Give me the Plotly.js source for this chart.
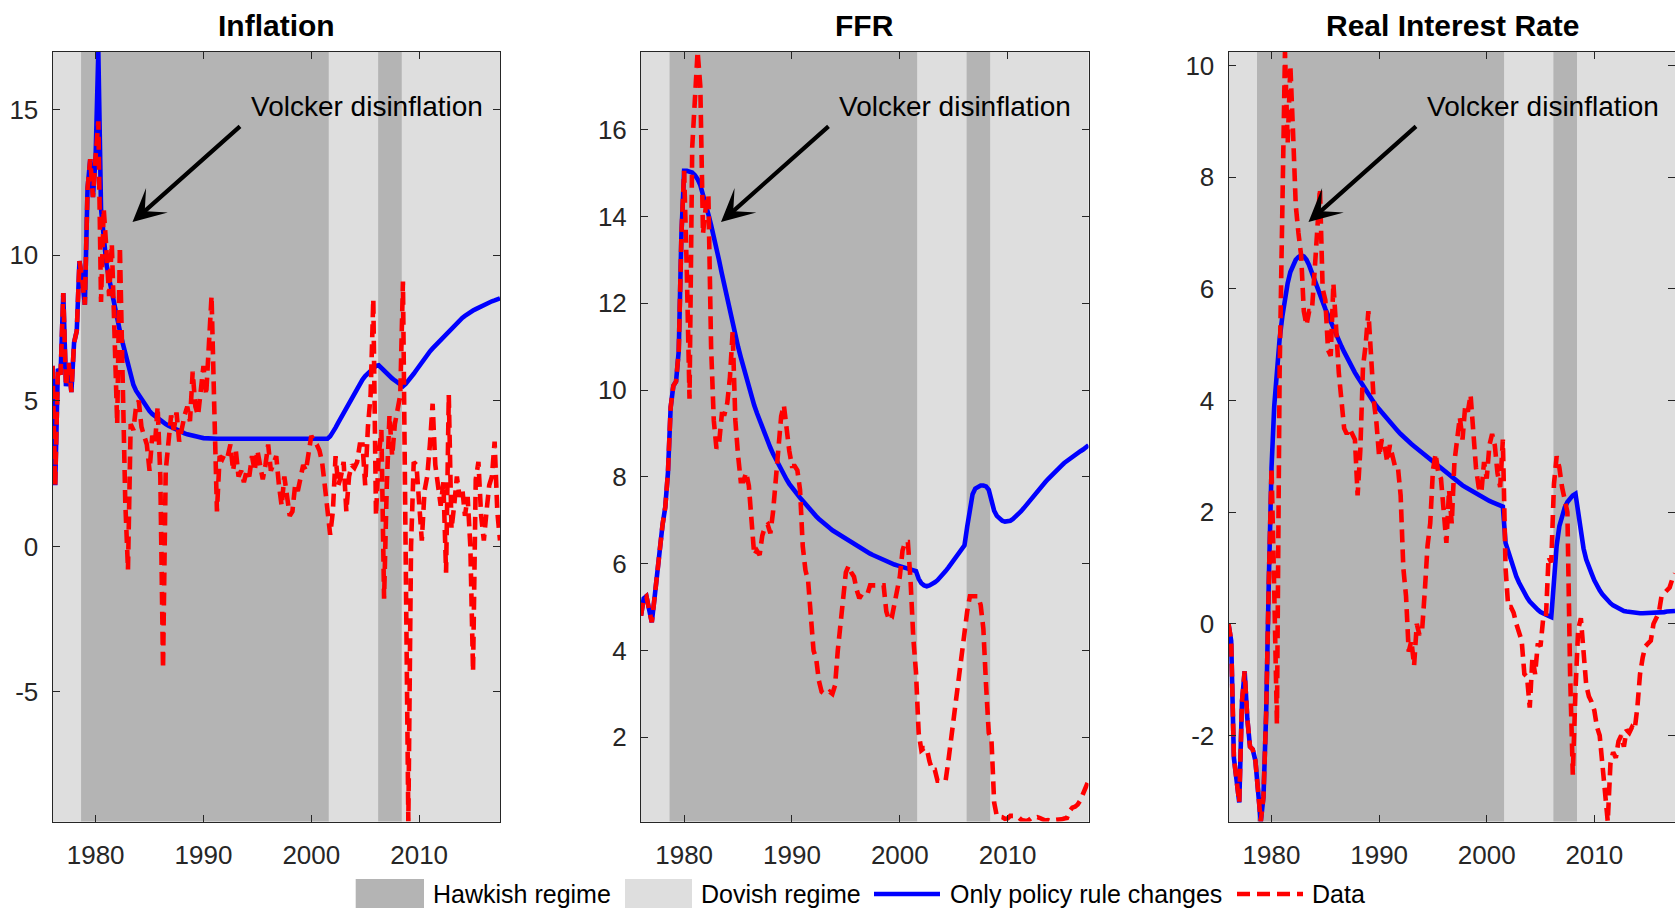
<!DOCTYPE html>
<html>
<head>
<meta charset="utf-8">
<script src="https://cdn.plot.ly/plotly-3.0.1.min.js"></script>
<style>
html,body{margin:0;padding:0;background:#ffffff;}
#chart{width:1675px;height:911px;}
</style>
</head>
<body>
<div id="chart"></div>
<script>
// ---------------- DATA ----------------
const firstQuarter = 1976;          // 1976Q1, quarterly observations
const panelTitles = ['Inflation', 'FFR', 'Real Interest Rate'];
const xTickVals = [1980, 1990, 2000, 2010];

const regimeStart = [1976.0, 1978.65, 2001.63, 2006.2, 2008.4];
const regimeEnd   = [1978.65, 2001.63, 2006.2, 2008.4, 2017.5];
const regimeType  = ['Dovish', 'Hawkish', 'Dovish', 'Hawkish', 'Dovish'];

const legendLabels = ['Hawkish regime', 'Dovish regime', 'Only policy rule changes', 'Data'];
const annotationText = 'Volcker disinflation';

const inflationTicks = [-5, 0, 5, 10, 15];
const ffrTicks = [2, 4, 6, 8, 10, 12, 14, 16];
const realRateTicks = [-2, 0, 2, 4, 6, 8, 10];

// Inflation – data
const inflationData = [
  6.2, 2.1, 6.1, 5.9,
  8.7, 5.5, 6.3, 5.3,
  7.0, 7.4, 9.8, 9.2,
  8.3, 12.3, 13.3, 12.0,
  13.4, 14.6, 8.4, 11.6,
  10.2, 8.6, 10.4, 6.8,
  4.2, 10.3, 5.4, 1.5,
  -0.8, 4.2, 4.0, 4.8,
  5.0, 4.1, 3.8, 3.5,
  2.6, 3.8, 3.5, 4.8,
  2.4, -4.2, 2.6, 3.6,
  4.5, 4.0, 4.6, 3.6,
  4.1, 4.5, 4.8, 4.3,
  6.0, 4.8, 4.5, 5.5,
  6.2, 5.2, 7.1, 8.6,
  4.8, 1.2, 3.1, 3.0,
  3.2, 3.1, 3.5, 2.6,
  3.3, 2.4, 2.6, 2.2,
  2.6, 2.4, 3.1, 2.6,
  3.3, 2.8, 2.3, 2.8,
  3.5, 2.6, 2.9, 3.1,
  2.1, 1.4, 2.4, 1.6,
  1.05, 1.2, 2.1, 1.9,
  2.4, 2.8, 2.6, 3.1,
  3.8, 3.6, 3.5, 3.3,
  2.9, 2.1, 1.4, 0.4,
  1.2, 3.1, 2.1, 2.4,
  2.9, 1.2, 2.4, 2.8,
  2.7, 2.9, 3.5, 3.5,
  2.1, 4.1, 5.2, 8.5,
  1.05, 3.1, 4.0, -1.8,
  2.1, 4.5, 3.1, 4.2,
  4.7, 5.2, 9.1, 0.3,
  -9.45, 0.0, 2.9, 2.8,
  1.2, 0.2, 1.9, 2.4,
  3.5, 4.9, 2.8, 2.1,
  1.4, 2.2, -0.9, 5.2,
  0.6, 1.4, 2.4, 1.7,
  2.0, 1.05, 1.7, 0.0,
  -4.3, 2.3, 2.9, 1.05,
  0.2, 1.2, 2.1, 2.4,
  3.6, 1.2, 0.2
];
// Inflation – only policy rule changes
const inflationPolicy = [
  6.2, 2.1, 6.1, 5.9,
  8.7, 5.5, 6.3, 5.3,
  7.0, 7.4, 9.8, 9.2,
  8.3, 12.3, 13.3, 12.0,
  13.4, 17.0, 11.6, 10.5,
  9.7, 9.2, 8.7, 8.25,
  7.8, 7.4, 7.0, 6.6,
  6.2, 5.8, 5.55, 5.35,
  5.2, 5.05, 4.9, 4.78,
  4.65, 4.55, 4.47, 4.4,
  4.33, 4.26, 4.2, 4.15,
  4.1, 4.05, 4.0, 3.96,
  3.92, 3.88, 3.85, 3.82,
  3.8, 3.78, 3.76, 3.74,
  3.72, 3.71, 3.71, 3.7,
  3.7, 3.7, 3.7, 3.7,
  3.7, 3.7, 3.7, 3.7,
  3.7, 3.7, 3.7, 3.7,
  3.7, 3.7, 3.7, 3.7,
  3.7, 3.7, 3.7, 3.7,
  3.7, 3.7, 3.7, 3.7,
  3.7, 3.7, 3.7, 3.7,
  3.7, 3.7, 3.7, 3.7,
  3.7, 3.7, 3.7, 3.7,
  3.7, 3.7, 3.7, 3.7,
  3.7, 3.7, 3.7, 3.78,
  3.9, 4.08, 4.25, 4.42,
  4.6, 4.78, 4.95, 5.12,
  5.3, 5.45, 5.6, 5.73,
  5.85, 5.95, 6.05, 6.13,
  6.2, 6.22, 6.12, 6.02,
  5.93, 5.85, 5.77, 5.7,
  5.63, 5.56, 5.5, 5.58,
  5.68, 5.8, 5.93, 6.06,
  6.2, 6.33, 6.46, 6.58,
  6.7, 6.8, 6.9, 7.0,
  7.1, 7.2, 7.3, 7.4,
  7.5, 7.59, 7.68, 7.77,
  7.85, 7.92, 7.99, 8.05,
  8.1, 8.15, 8.2, 8.25,
  8.3, 8.34, 8.38, 8.42,
  8.45, 8.49, 8.52
];

// FFR – data
const ffrData = [
  4.8, 5.2, 5.25, 4.9,
  4.65, 5.2, 5.8, 6.5,
  6.9, 7.3, 8.1, 9.6,
  10.1, 10.2, 10.9, 13.6,
  15.05, 12.7, 9.8, 15.6,
  16.6, 17.8, 17.0, 13.6,
  14.2, 14.5, 11.0, 9.3,
  8.65, 8.8, 9.45, 9.45,
  9.7, 10.3, 11.35, 9.3,
  8.5, 7.9, 7.9, 8.1,
  7.8, 6.9, 6.2, 6.3,
  6.2, 6.65, 6.85, 6.9,
  6.7, 7.2, 8.0, 8.5,
  9.4, 9.65, 9.1, 8.6,
  8.25, 8.25, 8.15, 7.7,
  6.4, 5.85, 5.6, 4.8,
  4.0, 3.8, 3.3, 3.05,
  3.0, 3.0, 3.05, 3.0,
  3.2, 4.0, 4.5, 5.2,
  5.8, 5.95, 5.8, 5.7,
  5.4, 5.2, 5.3, 5.3,
  5.3, 5.5, 5.5, 5.5,
  5.5, 5.5, 5.5, 4.9,
  4.7, 4.75, 5.1, 5.3,
  5.7, 6.3, 6.5, 6.5,
  5.6, 4.3, 3.5, 2.1,
  1.7, 1.75, 1.75, 1.45,
  1.25, 1.25, 1.0, 1.0,
  1.0, 1.0, 1.45, 1.95,
  2.5, 2.95, 3.45, 3.95,
  4.45, 4.9, 5.25, 5.25,
  5.25, 5.25, 5.05, 4.5,
  3.2, 2.1, 1.95, 0.5,
  0.18, 0.18, 0.16, 0.12,
  0.13, 0.19, 0.19, 0.19,
  0.16, 0.1, 0.08, 0.07,
  0.1, 0.15, 0.14, 0.16,
  0.14, 0.12, 0.08, 0.09,
  0.07, 0.09, 0.09, 0.1,
  0.11, 0.13, 0.14, 0.3,
  0.38, 0.4, 0.45, 0.55,
  0.7, 0.85, 1.0
];
// FFR – only policy rule changes
const ffrPolicy = [
  4.8, 5.2, 5.25, 4.9,
  4.65, 5.2, 5.8, 6.5,
  6.9, 7.3, 8.1, 9.6,
  10.1, 10.2, 10.9, 13.6,
  15.05, 15.05, 15.04, 15.01,
  14.95, 14.86, 14.72, 14.52,
  14.3, 14.05, 13.8, 13.55,
  13.3, 12.98, 12.68, 12.38,
  12.1, 11.82, 11.55, 11.27,
  11.0, 10.76, 10.52, 10.28,
  10.05, 9.85, 9.65, 9.47,
  9.3, 9.13, 8.97, 8.82,
  8.67, 8.53, 8.4, 8.28,
  8.16, 8.05, 7.94, 7.84,
  7.75, 7.67, 7.59, 7.52,
  7.45, 7.37, 7.29, 7.22,
  7.15, 7.09, 7.03, 6.97,
  6.92, 6.87, 6.82, 6.77,
  6.73, 6.69, 6.65, 6.61,
  6.57, 6.53, 6.49, 6.44,
  6.4, 6.36, 6.33, 6.29,
  6.26, 6.23, 6.2, 6.17,
  6.14, 6.11, 6.08, 6.05,
  6.03, 6.0, 5.98, 5.96,
  5.94, 5.92, 5.9, 5.89,
  5.88, 5.86, 5.83, 5.65,
  5.55, 5.5, 5.48, 5.5,
  5.53, 5.57, 5.62, 5.68,
  5.75, 5.83, 5.91, 6.0,
  6.08, 6.17, 6.26, 6.35,
  6.42, 6.85, 7.3, 7.6,
  7.73, 7.78, 7.8, 7.8,
  7.78, 7.7, 7.42, 7.22,
  7.1, 7.03, 6.99, 6.97,
  6.97, 6.99, 7.03, 7.08,
  7.14, 7.21, 7.28, 7.36,
  7.44, 7.52, 7.59, 7.67,
  7.74, 7.81, 7.88, 7.95,
  8.02, 8.08, 8.14, 8.2,
  8.26, 8.32, 8.37, 8.42,
  8.47, 8.51, 8.55, 8.59,
  8.63, 8.68, 8.73
];

// Real interest rate – data
const realRateData = [
  0.0, -0.3, -2.4, -2.8,
  -3.2, -1.4, -0.85, -1.7,
  -2.2, -2.25, -2.45, -3.0,
  -3.54, -3.1, -1.6, 0.8,
  2.8, 0.6, -1.8, 4.5,
  7.0, 10.25, 8.6, 10.0,
  8.8, 7.5, 7.0, 6.6,
  5.6, 5.35, 5.6, 5.6,
  6.3, 7.0, 7.8, 6.0,
  5.8, 4.9, 4.8, 6.1,
  5.2, 4.5, 4.0, 3.5,
  3.4, 3.5, 3.4, 3.3,
  2.3, 3.1, 4.6, 5.0,
  5.6, 4.7, 4.0, 3.6,
  3.0, 3.3, 3.2, 2.9,
  3.2, 3.0, 2.8, 2.8,
  2.3, 1.0, 0.5, -0.5,
  -0.3, -0.75, 0.0, -0.2,
  -0.1, 0.6, 1.4, 1.8,
  2.75, 3.05, 2.7, 2.6,
  1.9, 1.45, 2.4, 1.8,
  2.9, 3.3, 3.7, 3.3,
  3.9, 3.8, 4.1, 3.45,
  2.8, 2.45, 2.35, 2.9,
  2.6, 3.2, 3.4, 3.2,
  2.7, 2.45, 3.3, 1.0,
  0.3, 0.3, 0.2, 0.0,
  -0.15, -0.3, -0.9, -0.95,
  -1.5, -0.6, -0.9, -0.35,
  -0.4, 0.1, 0.1, 1.2,
  1.1, 2.5, 3.0, 2.8,
  2.45, 2.2, 2.0, -0.9,
  -2.7, -1.2, -0.1, 0.1,
  -0.5, -1.1, -1.3, -1.4,
  -1.55, -1.85, -2.0, -2.5,
  -3.0, -3.54, -2.5, -2.3,
  -2.4, -2.1, -2.0, -2.2,
  -1.9, -1.95, -1.85, -1.9,
  -1.5, -0.9, -0.6, -0.4,
  -0.35, -0.3, 0.0, 0.1,
  0.2, 0.5, 0.55, 0.6,
  0.65, 0.8, 0.9
];
// Real interest rate – only policy rule changes
const realRatePolicy = [
  0.0, -0.3, -2.4, -2.8,
  -3.2, -1.4, -0.85, -1.7,
  -2.2, -2.25, -2.45, -3.0,
  -3.54, -3.1, -1.6, 0.8,
  2.8, 3.9, 4.6, 5.1,
  5.5, 5.85, 6.1, 6.3,
  6.42, 6.52, 6.57, 6.6,
  6.58, 6.52, 6.42, 6.3,
  6.17, 6.03, 5.9, 5.77,
  5.64, 5.52, 5.4, 5.29,
  5.18, 5.07, 4.97, 4.87,
  4.77, 4.68, 4.59, 4.5,
  4.42, 4.34, 4.26, 4.18,
  4.11, 4.04, 3.97, 3.9,
  3.84, 3.78, 3.72, 3.66,
  3.6, 3.55, 3.5, 3.45,
  3.4, 3.35, 3.3, 3.26,
  3.22, 3.18, 3.14, 3.1,
  3.06, 3.02, 2.98, 2.94,
  2.9, 2.86, 2.82, 2.78,
  2.74, 2.7, 2.66, 2.62,
  2.58, 2.55, 2.51, 2.48,
  2.45, 2.42, 2.39, 2.36,
  2.33, 2.3, 2.27, 2.25,
  2.22, 2.2, 2.18, 2.16,
  2.14, 2.12, 2.1, 1.45,
  1.3, 1.12, 0.98, 0.85,
  0.74, 0.64, 0.55, 0.47,
  0.4, 0.34, 0.29, 0.25,
  0.21, 0.18, 0.16, 0.14,
  0.12, 0.9, 1.4, 1.75,
  1.95, 2.08, 2.18, 2.25,
  2.3, 2.33, 2.0, 1.6,
  1.35, 1.15, 1.0, 0.9,
  0.78, 0.68, 0.6, 0.53,
  0.47, 0.42, 0.37, 0.33,
  0.3, 0.27, 0.25, 0.23,
  0.22, 0.21, 0.2, 0.2,
  0.19, 0.19, 0.19, 0.19,
  0.19, 0.19, 0.19, 0.2,
  0.2, 0.21, 0.21, 0.22,
  0.22, 0.23, 0.23
];

// ---------------- BUILD ----------------
const quarters = inflationData.map((_, i) => firstQuarter + i / 4);

const W = 1675, H = 911;
const panelLeftPx = [52.5, 641, 1228.5];
const panelWidthPx = 447.5;
const plotTopPx = 51.5, plotBotPx = 821.5;
const xRange = [1976, 2017.5];
const yRanges = [[-9.45, 17.0], [0.06, 17.8], [-3.54, 10.25]];
const yTickSets = [inflationTicks, ffrTicks, realRateTicks];
const seriesData = [inflationData, ffrData, realRateData];
const seriesPolicy = [inflationPolicy, ffrPolicy, realRatePolicy];

const HAWK = '#b4b4b4', DOVE = '#dedede';
const AXC = '#262626';
const FONT = 'Liberation Sans, Arial, Helvetica, sans-serif';
const LW = 4.6;
const DASH = '13px,7px';

const traces = [];
const layout = {
  width: W, height: H,
  margin: {l: 0, r: 0, t: 0, b: 0},
  paper_bgcolor: '#ffffff',
  plot_bgcolor: DOVE,
  showlegend: false,
  font: {family: FONT, color: AXC},
  shapes: [],
  annotations: []
};

for (let p = 0; p < 3; p++) {
  const s = p === 0 ? '' : String(p + 1);
  const xa = 'xaxis' + s, ya = 'yaxis' + s;
  const x0 = panelLeftPx[p] / W, x1 = (panelLeftPx[p] + panelWidthPx) / W;
  layout[xa] = {
    domain: [x0, Math.min(1, x1)], anchor: 'y' + s,
    range: xRange, tickmode: 'array', tickvals: xTickVals,
    ticktext: xTickVals.map(String),
    ticks: 'inside', ticklen: 7, tickwidth: 1, tickcolor: AXC,
    showline: true, linecolor: AXC, linewidth: 1, mirror: 'ticks',
    showgrid: false, zeroline: false,
    tickfont: {family: FONT, size: 26, color: AXC},
    ticklabelstandoff: 10,
    fixedrange: true
  };
  layout[ya] = {
    domain: [1 - plotBotPx / H, 1 - plotTopPx / H], anchor: 'x' + s,
    range: yRanges[p], tickmode: 'array', tickvals: yTickSets[p],
    ticktext: yTickSets[p].map(String),
    ticks: 'inside', ticklen: 7, tickwidth: 1, tickcolor: AXC,
    showline: true, linecolor: AXC, linewidth: 1, mirror: 'ticks',
    showgrid: false, zeroline: false,
    tickfont: {family: FONT, size: 26, color: AXC},
    ticklabelstandoff: 8,
    fixedrange: true
  };
  // regime shading
  for (let r = 0; r < regimeStart.length; r++) {
    layout.shapes.push({
      type: 'rect', xref: 'x' + s, yref: 'y' + s + ' domain',
      x0: regimeStart[r], x1: regimeEnd[r], y0: 0, y1: 1,
      fillcolor: regimeType[r] === 'Hawkish' ? HAWK : DOVE,
      line: {width: 0}, layer: 'below'
    });
  }
  traces.push({
    type: 'scatter', mode: 'lines', x: quarters, y: seriesPolicy[p],
    xaxis: 'x' + s, yaxis: 'y' + s, name: legendLabels[2],
    line: {color: '#0000ff', width: LW}, hoverinfo: 'skip'
  });
  traces.push({
    type: 'scatter', mode: 'lines', x: quarters, y: seriesData[p],
    xaxis: 'x' + s, yaxis: 'y' + s, name: legendLabels[3],
    line: {color: '#ff0000', width: LW, dash: DASH}, hoverinfo: 'skip'
  });
  // panel title
  layout.annotations.push({
    xref: 'paper', yref: 'paper',
    x: (panelLeftPx[p] + panelWidthPx / 2) / W, y: 1 - 26 / H,
    xanchor: 'center', yanchor: 'middle', showarrow: false,
    text: '<b>' + panelTitles[p] + '</b>',
    font: {family: FONT, size: 30, color: '#000000'}
  });
  // Volcker text
  layout.annotations.push({
    xref: 'paper', yref: 'paper',
    x: (panelLeftPx[p] + 196) / W, y: 1 - 106 / H,
    xanchor: 'left', yanchor: 'middle', showarrow: false,
    text: annotationText,
    font: {family: FONT, size: 28, color: '#000000'}
  });
  // arrow
  layout.annotations.push({
    xref: 'paper', yref: 'paper',
    x: (panelLeftPx[p] + 80) / W, y: 1 - 222 / H,
    ax: 109, ay: -97, axref: 'pixel', ayref: 'pixel',
    text: '', showarrow: true, arrowhead: 3, arrowsize: 1.3,
    arrowwidth: 4.2, arrowcolor: '#000000', standoff: 0
  });
}

// ---------------- LEGEND (manual) ----------------
const legY = 1 - 894 / H;
layout.shapes.push({type: 'rect', xref: 'paper', yref: 'paper',
  x0: 355.7 / W, x1: 424 / W, y0: 1 - 908 / H, y1: 1 - 879 / H,
  fillcolor: HAWK, line: {width: 0}});
layout.shapes.push({type: 'rect', xref: 'paper', yref: 'paper',
  x0: 625 / W, x1: 692 / W, y0: 1 - 908 / H, y1: 1 - 879 / H,
  fillcolor: DOVE, line: {width: 0}});
layout.shapes.push({type: 'line', xref: 'paper', yref: 'paper',
  x0: 874 / W, x1: 940 / W, y0: legY, y1: legY,
  line: {color: '#0000ff', width: LW}});
layout.shapes.push({type: 'line', xref: 'paper', yref: 'paper',
  x0: 1237 / W, x1: 1303 / W, y0: legY, y1: legY,
  line: {color: '#ff0000', width: LW, dash: DASH}});
const legTextX = [430.5, 698.6, 947.5, 1309.7];
for (let i = 0; i < 4; i++) {
  layout.annotations.push({
    xref: 'paper', yref: 'paper', x: legTextX[i] / W, y: legY,
    xanchor: 'left', yanchor: 'middle', showarrow: false,
    text: legendLabels[i], font: {family: FONT, size: 25, color: '#000000'}
  });
}

Plotly.newPlot('chart', traces, layout, {displayModeBar: false, staticPlot: true});
</script>
</body>
</html>
